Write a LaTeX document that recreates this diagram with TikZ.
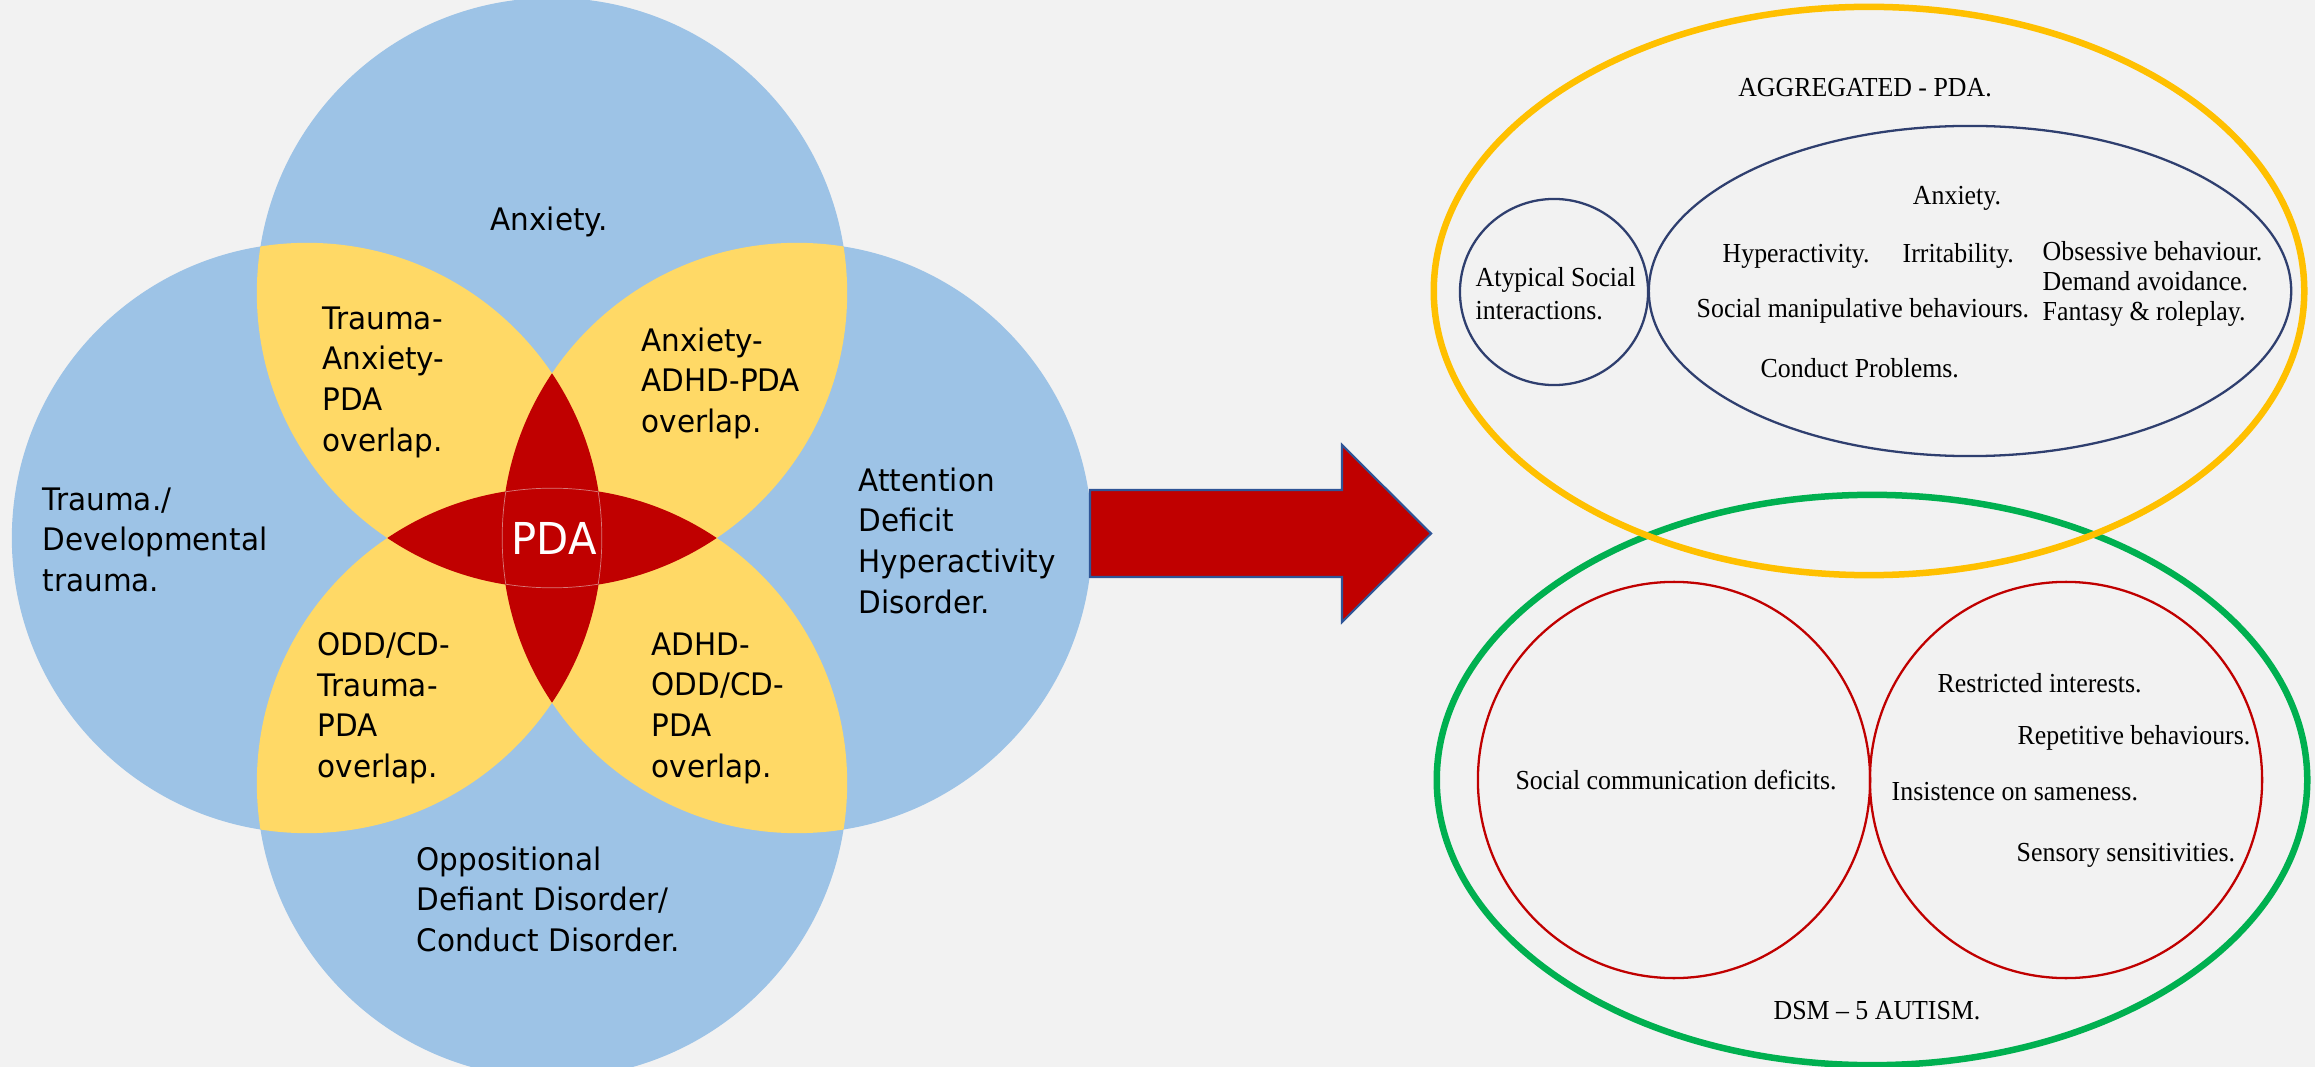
\documentclass[tikz,border=0pt]{standalone}
\usepackage{fontspec}
\newfontfamily\vennfont[FakeStretch=0.95]{DejaVu Sans}
\newfontfamily\tnrfont[FakeStretch=0.94]{Liberation Serif}
\definecolor{bgc}{HTML}{F2F2F2}
\definecolor{vblue}{HTML}{9DC3E6}
\definecolor{vyellow}{HTML}{FFD966}
\definecolor{vred}{HTML}{C00000}
\definecolor{ringyellow}{HTML}{FFC000}
\definecolor{ringgreen}{HTML}{00B050}
\definecolor{navyline}{HTML}{2F3F6F}
\definecolor{arrowedge}{HTML}{2F5597}
\definecolor{faintline}{HTML}{D87A7A}
\def\vennR{2.95cm}
\begin{document}
\begin{tikzpicture}[x=0.01cm,y=-0.01cm,
  lbl/.style={font=\vennfont\fontsize{8.82pt}{11.55pt}\selectfont, inner sep=0pt, align=left, anchor=north west, text=black},
  rt/.style={font=\tnrfont\fontsize{7.82pt}{9.39pt}\selectfont, inner sep=0pt, text=black},
  thinring/.style={line width=0.65pt},
  thickring/.style={line width=1.85pt}]
\useasboundingbox[fill=bgc] (0,0) rectangle (2315,1067);
% ---- Venn on the left ----
\coordinate (cT) at (552,293);
\coordinate (cB) at (552,783);
\coordinate (cL) at (307,538);
\coordinate (cR) at (797,538);
\begin{scope}
\clip (0,0) rectangle (2315,1067);
\fill[vblue] (cT) circle[radius=\vennR];
\fill[vblue] (cB) circle[radius=\vennR];
\fill[vblue] (cL) circle[radius=\vennR];
\fill[vblue] (cR) circle[radius=\vennR];
\end{scope}
% yellow pairwise overlaps
\begin{scope}\clip (cT) circle[radius=\vennR]; \fill[vyellow] (cL) circle[radius=\vennR];\end{scope}
\begin{scope}\clip (cT) circle[radius=\vennR]; \fill[vyellow] (cR) circle[radius=\vennR];\end{scope}
\begin{scope}\clip (cB) circle[radius=\vennR]; \fill[vyellow] (cL) circle[radius=\vennR];\end{scope}
\begin{scope}\clip (cB) circle[radius=\vennR]; \fill[vyellow] (cR) circle[radius=\vennR];\end{scope}
% red opposite overlaps
\begin{scope}\clip (cT) circle[radius=\vennR]; \fill[vred] (cB) circle[radius=\vennR];\end{scope}
\begin{scope}\clip (cL) circle[radius=\vennR]; \fill[vred] (cR) circle[radius=\vennR];\end{scope}
% faint outlines in the centre
\begin{scope}
\clip (cT) circle[radius=\vennR];
\clip (cB) circle[radius=\vennR];
\clip (cL) circle[radius=\vennR];
\clip (cR) circle[radius=\vennR];
\draw[faintline, line width=0.4pt] (cT) circle[radius=\vennR] (cB) circle[radius=\vennR] (cL) circle[radius=\vennR] (cR) circle[radius=\vennR];
\end{scope}
% labels
\node[lbl, anchor=base] (anx) at (549,231) {Anxiety.};
\node[lbl] (tap) at (322,306) {Trauma-\\Anxiety-\\PDA\\overlap.};
\node[lbl] (aap) at (641,327) {Anxiety-\\ADHD-PDA\\overlap.};
\node[lbl] (tra) at (42,487) {Trauma./\\Developmental\\trauma.};
\node[lbl] (adhd) at (858,467) {Attention\\Deficit\\Hyperactivity\\Disorder.};
\node[lbl] (otp) at (317,632) {ODD/CD-\\Trauma-\\PDA\\overlap.};
\node[lbl] (aop) at (651,632) {ADHD-\\ODD/CD-\\PDA\\overlap.};
\node[lbl] (odd) at (416,846) {Oppositional\\Defiant Disorder/\\Conduct Disorder.};
\node[font=\vennfont\fontsize{12.5pt}{14pt}\selectfont, text=white, inner sep=0pt] (pda) at (554,538) {PDA};
% ---- block arrow ----
\filldraw[fill=vred, draw=arrowedge, line width=0.6pt, line join=miter]
  (1090,490) -- (1342,490) -- (1342,445) -- (1431,533.5) -- (1342,622) -- (1342,577) -- (1090,577) -- cycle;
% ---- right side ----
\draw[ringgreen, thickring] (1872,780) ellipse[x radius=4.35cm, y radius=2.85cm];
\draw[ringyellow, thickring] (1869,291) ellipse[x radius=4.35cm, y radius=2.84cm];
\draw[navyline, thinring] (1554,292) ellipse[x radius=0.94cm, y radius=0.93cm];
\draw[navyline, thinring] (1970,291) ellipse[x radius=3.21cm, y radius=1.65cm];
\draw[vred, thinring] (1674,780) ellipse[x radius=1.96cm, y radius=1.98cm];
\draw[vred, thinring] (2066,780) ellipse[x radius=1.96cm, y radius=1.98cm];
\node[rt, anchor=base] (agg) at (1865,97) {AGGREGATED - PDA.};
\node[rt, anchor=base] (ranx) at (1957,205) {Anxiety.};
\node[rt, anchor=base west] (hyp) at (1722,263) {Hyperactivity.};
\node[rt, anchor=base west] (irr) at (1902,263) {Irritability.};
\node[rt, anchor=base west] (obs) at (2042,261) {Obsessive behaviour.};
\node[rt, anchor=base west] (dem) at (2042,291) {Demand avoidance.};
\node[rt, anchor=base west] (fan) at (2042,321) {Fantasy \& roleplay.};
\node[rt, anchor=base west] (soc) at (1696,318) {Social manipulative behaviours.};
\node[rt, anchor=base west] (con) at (1760,378) {Conduct Problems.};
\node[rt, anchor=north west, align=left] (aty) at (1475,267) {Atypical Social\\interactions.};
\node[rt, anchor=base] (scd) at (1676,789) {Social communication deficits.};
\node[rt, anchor=base west] (res) at (1937,692) {Restricted interests.};
\node[rt, anchor=base west] (rep) at (2017,744) {Repetitive behaviours.};
\node[rt, anchor=base west] (ins) at (1891,800) {Insistence on sameness.};
\node[rt, anchor=base west] (sen) at (2016,861) {Sensory sensitivities.};
\node[rt, anchor=base] (dsm) at (1877,1019) {DSM – 5 AUTISM.};
\end{tikzpicture}
\end{document}
